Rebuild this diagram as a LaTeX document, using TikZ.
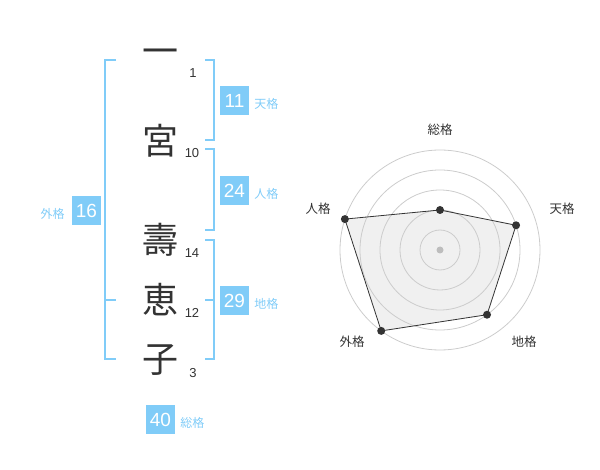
\documentclass[tikz,border=0pt]{standalone}
\usepackage{fontspec}
\setmainfont{Liberation Sans}
\newfontfamily\jpfont{Noto Sans CJK JP}
\usetikzlibrary{positioning}
\definecolor{kakublue}{RGB}{128,204,248}
\definecolor{inkgray}{RGB}{51,51,51}
\definecolor{ringgray}{RGB}{204,204,204}
\definecolor{areagray}{RGB}{240,240,240}

\begin{document}
\begin{tikzpicture}[x=1pt,y=-1pt,
	bracket/.style={draw=kakublue, line width=1.8pt},
	kanji/.style={text=inkgray, inner sep=0pt, font=\jpfont\fontsize{36}{36}\selectfont},
	strokes/.style={text=inkgray, inner sep=0pt, font=\fontsize{13}{13}\selectfont},
	numbox/.style={fill=kakublue, text=white, minimum size=29pt, inner sep=0pt, font=\fontsize{19}{19}\selectfont},
	kakulabel/.style={text=kakublue, inner sep=0pt, yshift=-3pt, font=\jpfont\fontsize{12}{12}\selectfont},
	ring/.style={draw=ringgray, line width=0.8pt},
	vertex/.style={circle, fill=inkgray, inner sep=0pt, minimum size=8pt},
	axislabel/.style={text=inkgray, inner sep=0pt, font=\jpfont\fontsize{12.5}{12.5}\selectfont}]

	\useasboundingbox (0,0) rectangle (600,470);

	% kanji
	\node[kanji] (c1) at (160,57) {一};
	\node[kanji] (c2) at (160,141) {宮};
	\node[kanji] (c3) at (160,240) {壽};
	\node[kanji] (c4) at (160,300) {恵};
	\node[kanji] (c5) at (160,360) {子};

	\node[strokes] (n1) at (193,73) {1};
	\node[strokes] (n2) at (192,153) {10};
	\node[strokes] (n3) at (192,253) {14};
	\node[strokes] (n4) at (192,313) {12};
	\node[strokes] (n5) at (193,373) {3};

	% brackets
	\draw[bracket] (116,60) -- (105,60) -- (105,359) -- (116,359);
	\draw[bracket] (105,300) -- (116,300);

	\draw[bracket] (205,60) -- (214,60) -- (214,140) -- (205,140);
	\draw[bracket] (205,149) -- (214,149) -- (214,230) -- (205,230);
	\draw[bracket] (205,240) -- (214,240) -- (214,359) -- (205,359);
	\draw[bracket] (205,300) -- (214,300);

	% kakusu
	\node[numbox] (gai) at (86.5,210.5) {16};
	\node[kakulabel, left=7pt of gai] (gail) {外格};

	\node[numbox] (ten) at (234.5,100.5) {11};
	\node[kakulabel, right=5pt of ten] (tenl) {天格};

	\node[numbox] (jin) at (234.5,190.5) {24};
	\node[kakulabel, right=5pt of jin] (jinl) {人格};

	\node[numbox] (chi) at (234.5,300.5) {29};
	\node[kakulabel, right=5pt of chi] (chil) {地格};

	\node[numbox] (sou) at (160.5,419.5) {40};
	\node[kakulabel, right=5pt of sou] (soul) {総格};

	% radar
	\begin{scope}[shift={(440,250)}, yscale=-1]
		\coordinate (rsou) at (90:40);
		\coordinate (rten) at (18:80);
		\coordinate (rchi) at (-54:80);
		\coordinate (rgai) at (-126:100);
		\coordinate (rjin) at (162:100);

		\fill[areagray] (rsou) -- (rten) -- (rchi) -- (rgai) -- (rjin) -- cycle;
		\foreach \r in {20,40,...,100}
			\draw[ring] (0,0) circle (\r);
		\draw[inkgray, line width=0.8pt] (rsou) -- (rten) -- (rchi) -- (rgai) -- (rjin) -- cycle;

		\fill[ringgray!80!gray] (0,0) circle (3.5);
		\foreach \p in {rsou,rten,rchi,rgai,rjin}
			\node[vertex] at (\p) {};
	\end{scope}

	\node[axislabel] (asou) at (440,130) {総格};
	\node[axislabel] (aten) at (562,209) {天格};
	\node[axislabel] (achi) at (524,342) {地格};
	\node[axislabel] (agai) at (352,342) {外格};
	\node[axislabel] (ajin) at (318,209) {人格};

\end{tikzpicture}
\end{document}
